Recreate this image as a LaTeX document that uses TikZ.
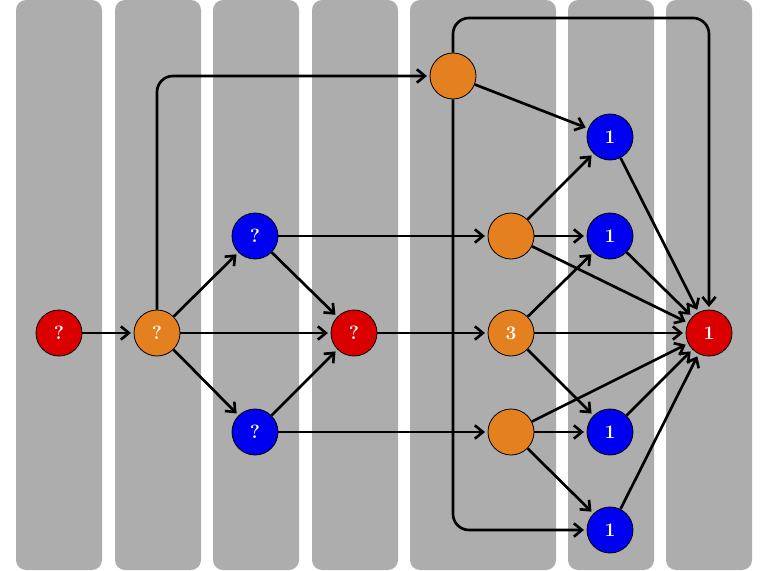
\documentclass[tikz,border=0pt]{standalone}
\usetikzlibrary{arrows.meta}
\definecolor{colbg}{RGB}{173,173,173}
\definecolor{nred}{RGB}{218,0,0}
\definecolor{nblue}{RGB}{0,0,240}
\definecolor{norange}{RGB}{228,128,32}
\begin{document}
\begin{tikzpicture}[x=0.75pt,y=-0.75pt,
  col/.style={fill=colbg,draw=none,rounded corners=7.5pt},
  nd/.style={circle,draw=black,line width=0.6pt,minimum size=34.5pt,inner sep=0pt,text=white,font=\bfseries\Large},
  r/.style={nd,fill=nred},b/.style={nd,fill=nblue},o/.style={nd,fill=norange},
  ar/.style={-{Straight Barb[length=6pt,width=10pt]},line width=2pt,shorten >=2pt}]
\useasboundingbox (0,0) rectangle (768,571);
\foreach \a/\bb in {16/102,115/201,213/299,312/398,410/556,568/654,666/752}
  \fill[col] (\a,0) rectangle (\bb,570);
\node[r] (a) at (59,333) {?};
\node[o] (b) at (157,333) {?};
\node[b] (c1) at (255,236) {?};
\node[b] (c2) at (255,432) {?};
\node[r] (d) at (354,333) {?};
\node[o] (e0) at (453,76) {};
\node[o] (e1) at (511,236) {};
\node[o] (e2) at (511,333) {3};
\node[o] (e3) at (511,432) {};
\node[b] (f1) at (610,137) {1};
\node[b] (f2) at (610,236) {1};
\node[b] (f3) at (610,432) {1};
\node[b] (f4) at (610,530) {1};
\node[r] (g) at (709,333) {1};
\draw[ar] (a)--(b);
\draw[ar] (b)--(c1);
\draw[ar] (b)--(c2);
\draw[ar] (b)--(d);
\draw[ar] (c1)--(d);
\draw[ar] (c2)--(d);
\draw[ar] (c1)--(e1);
\draw[ar] (c2)--(e3);
\draw[ar] (d)--(e2);
\draw[ar,rounded corners=12pt] (b.north) |- (e0.west);
\draw[ar] (e0)--(f1);
\draw[ar,rounded corners=12pt] (e0.north) |- (709,18) -- (g.north);
\draw[ar,rounded corners=12pt] (e0.south) |- (f4.west);
\foreach \s/\t in {e1/f1,e1/f2,e1/g,e2/f2,e2/g,e2/f3,e3/f3,e3/f4,e3/g,f1/g,f2/g,f3/g,f4/g}
  \draw[ar] (\s)--(\t);
\end{tikzpicture}
\end{document}
